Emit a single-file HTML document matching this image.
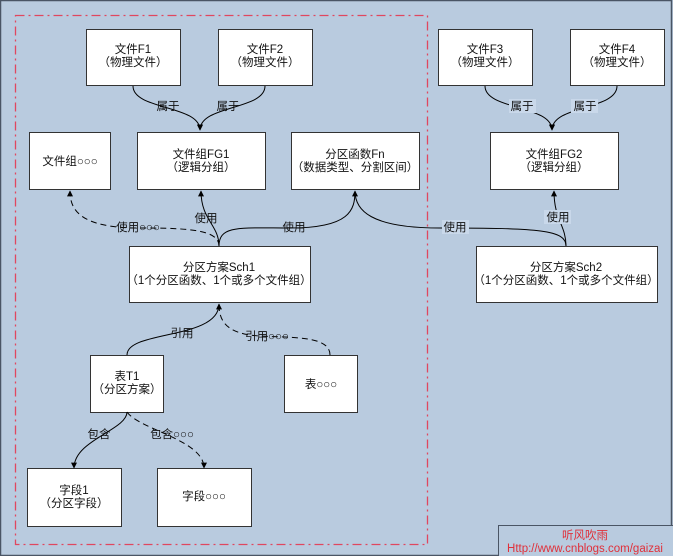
<!DOCTYPE html>
<html><head><meta charset="utf-8"><style>
html,body{margin:0;padding:0;}
body{width:673px;height:556px;overflow:hidden;background:#b9cbdf;}
svg{display:block;font-family:"Liberation Sans","Noto Sans CJK SC",sans-serif;}
text{font-size:11.5px;fill:#111;}
</style></head><body>
<svg width="673" height="556" viewBox="0 0 673 556" xmlns="http://www.w3.org/2000/svg">
<defs>
<marker id="a" viewBox="0 0 10 10" refX="9" refY="5" markerWidth="6" markerHeight="6" orient="auto"><path d="M0,0 L10,5 L0,10 z" fill="#000"/></marker>
</defs>
<rect x="0" y="0" width="673" height="556" fill="#b9cbdf"/>
<rect x="0.5" y="0.5" width="671" height="555" fill="none" stroke="#4a5565" stroke-width="1.5"/>
<rect x="15.5" y="15.5" width="412" height="529" fill="none" stroke="#e0475f" stroke-width="1.3" stroke-dasharray="9,4,2,4"/>
<g fill="#fff" stroke="#333" stroke-width="1">
<rect x="86.5" y="29.5" width="94" height="56"/>
<rect x="218.5" y="29.5" width="94" height="56"/>
<rect x="29.5" y="132.5" width="81" height="57"/>
<rect x="137.5" y="132.5" width="128" height="57"/>
<rect x="291.5" y="132.5" width="128" height="57"/>
<rect x="129.5" y="246.5" width="181" height="56"/>
<rect x="90.5" y="355.5" width="73" height="57"/>
<rect x="284.5" y="355.5" width="73" height="57"/>
<rect x="27.5" y="468.5" width="94" height="58"/>
<rect x="157.5" y="468.5" width="94" height="58"/>
<rect x="438.5" y="29.5" width="94" height="56"/>
<rect x="570.5" y="29.5" width="94" height="56"/>
<rect x="490.5" y="132.5" width="128" height="57"/>
<rect x="476.5" y="246.5" width="181" height="56"/>
</g>
<rect x="498.5" y="525.5" width="175" height="32" fill="#b9cbdf" stroke="#4a5565"/>
<g fill="none" stroke="#000" stroke-width="1">
<path d="M133,86 C133,110 200,105 200,130" marker-end="url(#a)"/>
<path d="M265,86 C265,110 200,105 200,130" marker-end="url(#a)"/>
<path d="M485,86 C485,110 552,105 552,130" marker-end="url(#a)"/>
<path d="M617,86 C617,110 552,105 552,130" marker-end="url(#a)"/>
<path d="M219,246 C219,225 201,220 201,191" marker-end="url(#a)"/>
<path d="M219,246 C219,225 240,228 290,228 C350,228 355,210 355,191" marker-end="url(#a)"/>
<path d="M219,246 C219,230 190,228 140,228 C80,228 70,210 70,191" stroke-dasharray="6,4" marker-end="url(#a)"/>
<path d="M566,246 C566,225 554,220 554,191" marker-end="url(#a)"/>
<path d="M566,246 C566,230 540,228 440,228 C370,228 355,210 355,191"/>
<path d="M127,355 C127,330 219,340 219,304" marker-end="url(#a)"/>
<path d="M330,355 C330,335 290,338 260,336 C225,334 219,320 219,304" stroke-dasharray="6,4"/>
<path d="M127,412 C127,430 74,440 74,468" marker-end="url(#a)"/>
<path d="M127,412 C140,430 204,440 204,468" stroke-dasharray="6,4" marker-end="url(#a)"/>
</g>
<g fill="#c9d8ea">
<rect x="509" y="99" width="27" height="14"/>
<rect x="571" y="99" width="27" height="14"/>
<rect x="544" y="210" width="27" height="14"/>
<rect x="442" y="220" width="27" height="14"/>
</g>
<g text-anchor="middle">
<text x="133" y="53">文件F1</text><text x="133" y="66">（物理文件）</text>
<text x="265" y="53">文件F2</text><text x="265" y="66">（物理文件）</text>
<text x="485" y="53">文件F3</text><text x="485" y="66">（物理文件）</text>
<text x="617" y="53">文件F4</text><text x="617" y="66">（物理文件）</text>
<text x="70" y="165">文件组○○○</text>
<text x="201" y="158">文件组FG1</text><text x="201" y="171">（逻辑分组）</text>
<text x="355" y="158">分区函数Fn</text><text x="355" y="171">（数据类型、分割区间）</text>
<text x="554" y="158">文件组FG2</text><text x="554" y="171">（逻辑分组）</text>
<text x="219" y="271">分区方案Sch1</text><text x="219" y="284">（1个分区函数、1个或多个文件组）</text>
<text x="566" y="271">分区方案Sch2</text><text x="566" y="284">（1个分区函数、1个或多个文件组）</text>
<text x="127" y="380">表T1</text><text x="127" y="393">（分区方案）</text>
<text x="321" y="388">表○○○</text>
<text x="74" y="494">字段1</text><text x="74" y="507">（分区字段）</text>
<text x="204" y="500">字段○○○</text>
<text x="168" y="110">属于</text><text x="228" y="110">属于</text>
<text x="522" y="110">属于</text><text x="585" y="110">属于</text>
<text x="206" y="222">使用</text><text x="294" y="231">使用</text>
<text x="138" y="231">使用○○○</text>
<text x="558" y="221">使用</text><text x="455" y="231">使用</text>
<text x="182" y="337">引用</text><text x="267" y="340">引用○○○</text>
<text x="99" y="438">包含</text><text x="172" y="438">包含○○○</text>
<text x="585" y="539" style="fill:#e0303a">听风吹雨</text>
<text x="585" y="552" style="fill:#e0303a">Http://www.cnblogs.com/gaizai</text>
</g>
</svg>
</body></html>
